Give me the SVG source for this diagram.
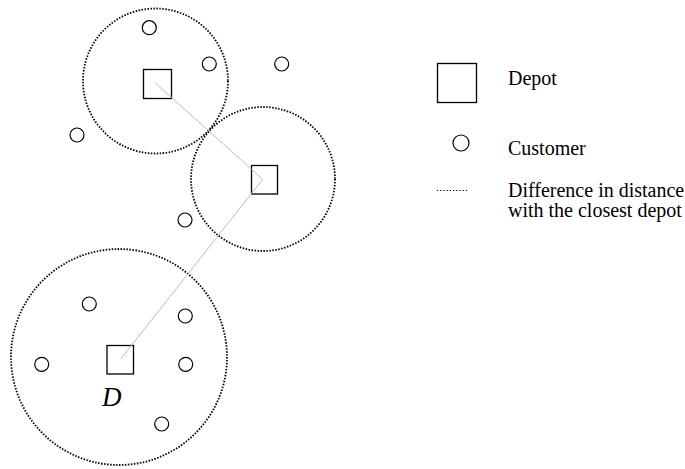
<svg xmlns="http://www.w3.org/2000/svg" width="685" height="469" viewBox="0 0 685 469">
<style>
.zone{fill:none;stroke:#000;stroke-width:1.8;stroke-dasharray:1.5 1.5}
.depot{fill:#fff;stroke:#000;stroke-width:1.3}
.cust{fill:#fff;stroke:#000;stroke-width:1.2}
.link{fill:none;stroke:#bdbdbd;stroke-width:1}
.lbl{font-family:"Liberation Serif","Times New Roman",serif;font-size:20px;fill:#000}
</style>
<rect width="685" height="469" fill="#fff"/>
<g id="zones">
<circle class="zone" cx="155.5" cy="81" r="72.5"/>
<circle class="zone" cx="263" cy="179" r="72"/>
<circle class="zone" cx="119" cy="357" r="108"/>
</g>
<g id="depot1"><rect class="depot" x="143.5" y="69.5" width="28" height="29"/></g>
<g id="depot2"><rect class="depot" x="251.5" y="165.5" width="26" height="28.5"/></g>
<g id="depot3"><rect class="depot" x="107" y="345.5" width="26.5" height="28.5"/></g>
<g id="connectors">
<polyline class="link" points="155,82.7 262.7,179.3 120.7,359"/>
</g>
<g id="customers">
<circle class="cust" cx="149.3" cy="27.7" r="7"/>
<circle class="cust" cx="209.3" cy="64" r="7"/>
<circle class="cust" cx="281.7" cy="64" r="7"/>
<circle class="cust" cx="77" cy="135" r="7"/>
<circle class="cust" cx="185" cy="220" r="7"/>
<circle class="cust" cx="89.3" cy="304" r="7"/>
<circle class="cust" cx="185.3" cy="316" r="7"/>
<circle class="cust" cx="41.7" cy="364.3" r="7"/>
<circle class="cust" cx="185.7" cy="364.3" r="7"/>
<circle class="cust" cx="161.7" cy="424" r="7"/>
</g>
<g id="label-D"><text x="102" y="406" font-family="Liberation Serif, Times New Roman, serif" font-style="italic" font-size="27">D</text></g>
<g id="legend">
<rect class="depot" x="437.5" y="63.5" width="39" height="39"/>
<text class="lbl" x="508" y="85">Depot</text>
<circle class="cust" cx="461" cy="143" r="8"/>
<text class="lbl" x="508" y="155">Customer</text>
<line x1="437" y1="190.5" x2="467" y2="190.5" stroke="#000" stroke-width="1" stroke-dasharray="1.2 2"/>
<text class="lbl" x="508" y="196.5">Difference in distance</text>
<text class="lbl" x="508" y="216.5">with the closest depot</text>
</g>
</svg>
